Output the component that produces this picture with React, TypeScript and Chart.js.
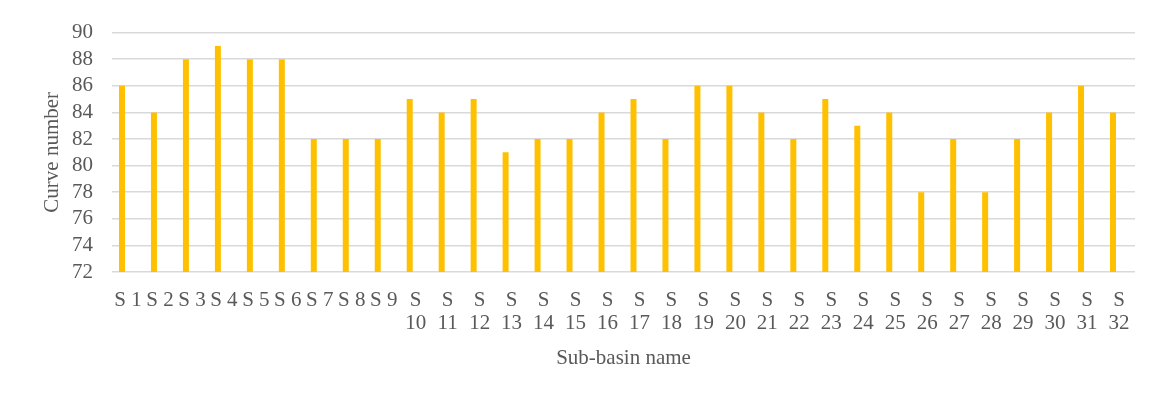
import React, { useEffect, useRef } from "react";
import { Chart, registerables } from "chart.js";

Chart.register(...registerables);

const categories: (string | string[])[] = [
  "S 1", "S 2", "S 3", "S 4", "S 5", "S 6", "S 7", "S 8", "S 9",
  ["S", "10"], ["S", "11"], ["S", "12"], ["S", "13"], ["S", "14"], ["S", "15"],
  ["S", "16"], ["S", "17"], ["S", "18"], ["S", "19"], ["S", "20"], ["S", "21"],
  ["S", "22"], ["S", "23"], ["S", "24"], ["S", "25"], ["S", "26"], ["S", "27"],
  ["S", "28"], ["S", "29"], ["S", "30"], ["S", "31"], ["S", "32"],
];

const curveNumbers: number[] = [
  86, 84, 88, 89, 88, 88, 82, 82, 82, 85, 84, 85, 81, 82, 82, 84,
  85, 82, 86, 86, 84, 82, 85, 83, 84, 78, 82, 78, 82, 84, 86, 84,
];

// Excel chart carried a second, empty series (bars sit left of the category centre)
const emptySeries: (number | null)[] = categories.map(() => null);

const yTicks = { min: 72, max: 90, step: 2 };

const FONT = '"Liberation Serif", "Times New Roman", serif';
const TEXT = "#595959";
const GRID = "#d9d9d9";

export default function App() {
  const ref = useRef<HTMLCanvasElement | null>(null);

  useEffect(() => {
    if (!ref.current) return;
    const chart = new Chart(ref.current, {
      type: "bar",
      data: {
        labels: categories,
        datasets: [
          {
            label: "Curve number",
            data: curveNumbers,
            backgroundColor: "#FFC000",
            borderWidth: 0,
            categoryPercentage: 0.75,
            barPercentage: 0.5,
          },
          {
            label: "",
            data: emptySeries,
            backgroundColor: "#FFC000",
            categoryPercentage: 0.75,
            barPercentage: 0.5,
          },
        ],
      },
      options: {
        responsive: false,
        animation: false,
        maintainAspectRatio: false,
        layout: { padding: { left: 0, right: 24, top: 12, bottom: 28 } },
        plugins: { legend: { display: false }, tooltip: { enabled: false } },
        scales: {
          x: {
            grid: { display: false, drawTicks: false },
            border: { display: false },
            ticks: {
              color: TEXT,
              font: { family: FONT, size: 21, lineHeight: 1.1 },
              padding: 17,
              maxRotation: 0,
              minRotation: 0,
              autoSkip: false,
            },
            title: {
              display: true,
              text: "Sub-basin name",
              color: TEXT,
              font: { family: FONT, size: 21, lineHeight: 1.2 },
              padding: { top: 0, bottom: 0 },
            },
            afterFit: (scale: any) => {
              scale.height = 99;
            },
          },
          y: {
            min: yTicks.min,
            max: yTicks.max,
            grid: { color: GRID, lineWidth: 1.5, drawTicks: false },
            border: { display: false },
            ticks: {
              stepSize: yTicks.step,
              autoSkip: false,
              color: TEXT,
              font: { family: FONT, size: 21 },
              padding: 19,
            },
            title: {
              display: true,
              text: "Curve number",
              color: TEXT,
              font: { family: FONT, size: 21, lineHeight: 1.2 },
              padding: { top: 32, bottom: 0 },
            },
            afterFit: (scale: any) => {
              scale.width = 104;
            },
          },
        },
      },
    });
    return () => chart.destroy();
  }, []);

  return (
    <div
      style={{
        width: 1153,
        height: 392,
        marginLeft: -1,
        marginTop: -1,
        border: "1px solid #d9d9d9",
        borderBottom: "none",
        boxSizing: "border-box",
        background: "#fff",
      }}
    >
      <canvas
        ref={ref}
        width={1151}
        height={398}
        style={{ display: "block", marginTop: -7 }}
      />
    </div>
  );
}
